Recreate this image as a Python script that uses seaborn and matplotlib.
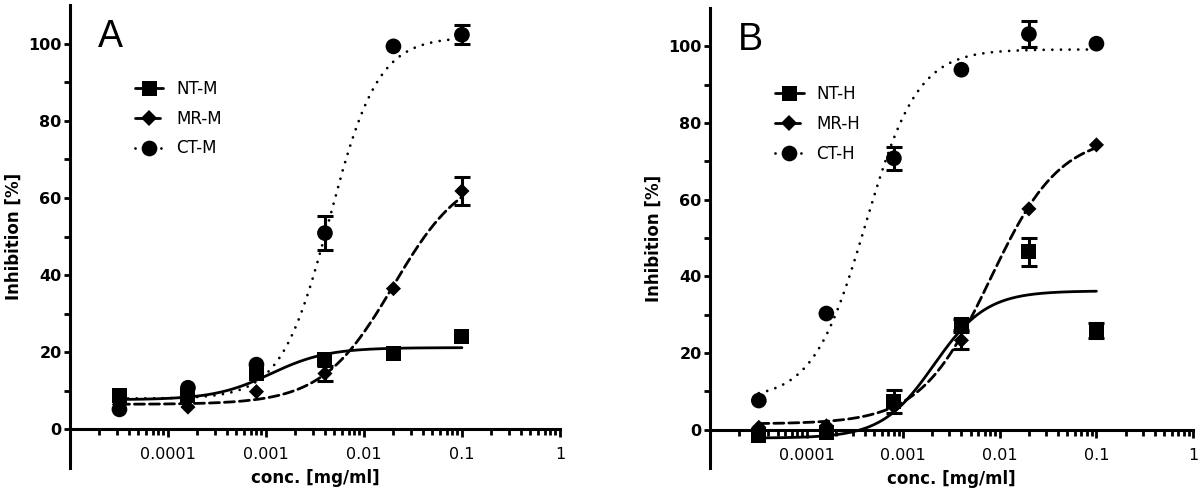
import numpy as np
import matplotlib
matplotlib.use("Agg")
import matplotlib.pyplot as plt
import seaborn as sns
from matplotlib.lines import Line2D
from matplotlib.ticker import LogLocator, NullFormatter

# ---------------- data ----------------
conc = [0.000032, 0.00016, 0.0008, 0.004, 0.02, 0.1]

# Panel A (mouse)
labels_A = ["NT-M", "MR-M", "CT-M"]
nt_m = [8.8, 8.8, 14.6, 18.2, 19.8, 24.0]
nt_m_err = [0, 0, 0, 0, 0, 0]
mr_m = [6.5, 5.8, 9.8, 14.5, 36.5, 61.8]
mr_m_err = [0, 0, 0, 2.0, 0, 3.7]
ct_m = [5.2, 10.8, 16.8, 50.9, 99.3, 102.3]
ct_m_err = [0, 0, 0, 4.5, 0, 2.5]

# Panel B (human)
labels_B = ["NT-H", "MR-H", "CT-H"]
nt_h = [-1.6, -0.7, 7.3, 27.5, 46.4, 25.9]
nt_h_err = [0, 0, 3.0, 1.5, 3.7, 2.0]
mr_h = [0.6, 1.0, 6.0, 23.3, 57.6, 74.3]
mr_h_err = [0, 0, 0, 2.2, 0, 0]
ct_h = [7.6, 30.3, 70.8, 93.9, 103.2, 100.7]
ct_h_err = [0, 0, 3.0, 0, 3.3, 0]

# four-parameter logistic fits: bottom, top, logEC50, hill slope
fit_nt_m = [7.7, 21.2, -2.95, 1.5]
fit_mr_m = [6.5, 68.0, -1.70, 1.2]
fit_ct_m = [8.0, 101.7, -2.35, 1.75]
fit_nt_h = [-2.2, 36.2, -2.68, 1.6]
fit_mr_h = [1.5, 77.0, -2.10, 1.2]
fit_ct_h = [8.0, 99.2, -3.39, 1.6]

xtick_vals = [0.0001, 0.001, 0.01, 0.1, 1]
xtick_labels = ["0.0001", "0.001", "0.01", "0.1", "1"]
ytick_vals = [0, 20, 40, 60, 80, 100]
ytick_labels = ["0", "20", "40", "60", "80", "100"]
panel_letters = ["A", "B"]

# ---------------- style ----------------
sns.set_style("ticks")
plt.rcParams['font.family'] = ['DejaVu Sans']
for k in ['text.color', 'axes.edgecolor', 'axes.labelcolor',
          'xtick.color', 'ytick.color']:
    plt.rcParams[k] = 'black'

LW = 2.0
styles = [
    dict(marker='s', ms=10.8, ls='-'),
    dict(marker='D', ms=7.7, ls=(0, (3.6, 1.8))),
    dict(marker='o', ms=11.3, ls=(0, (0.01, 3.1))),
]


def logistic(x, p):
    b, t, lc, h = p
    return b + (t - b) / (1.0 + 10 ** ((lc - np.log10(x)) * h))


fig = plt.figure(figsize=(12, 4.93), dpi=100)
axA = fig.add_axes([0.0583, 0.0507, 0.4083, 0.939])
axB = fig.add_axes([0.5917, 0.0507, 0.4025, 0.933])

panels = [
    (axA, labels_A, [nt_m, mr_m, ct_m], [nt_m_err, mr_m_err, ct_m_err],
     [fit_nt_m, fit_mr_m, fit_ct_m], (0.133, 0.838)),
    (axB, labels_B, [nt_h, mr_h, ct_h], [nt_h_err, mr_h_err, ct_h_err],
     [fit_nt_h, fit_mr_h, fit_ct_h], (0.135, 0.832)),
]

xfit = np.logspace(np.log10(conc[0]), np.log10(conc[-1]), 300)

for i, (ax, labels, series, errs, fits, legpos) in enumerate(panels):
    handles = []
    for vals, err, fit, st, lab in zip(series, errs, fits, styles, labels):
        sns.lineplot(x=xfit, y=logistic(xfit, fit), ax=ax, color='black',
                     lw=LW, linestyle=st['ls'], dash_capstyle='round',
                     zorder=2, legend=False)
        c = np.array(conc)
        v = np.array(vals)
        e = np.array(err)
        m = e > 0
        if m.any():
            ax.errorbar(c[m], v[m], yerr=e[m], fmt='none', ecolor='black',
                        elinewidth=2.2, capsize=5.5, capthick=2.2, zorder=3)
        sns.scatterplot(x=conc, y=vals, ax=ax, marker=st['marker'],
                        s=st['ms'] ** 2, color='black', edgecolor='none',
                        linewidth=0, zorder=4, legend=False)
        handles.append(Line2D([], [], color='black', lw=LW, linestyle=st['ls'],
                              dash_capstyle='round', marker=st['marker'],
                              markersize=st['ms'], markeredgewidth=0,
                              label=lab))

    ax.set_xscale('log')
    ax.set_xlim(1e-5, 1)
    ax.set_ylim(-10, 110)

    ax.set_xticks(xtick_vals, labels=xtick_labels, fontweight='bold')
    ax.xaxis.set_minor_locator(LogLocator(base=10, subs=np.arange(2, 10), numticks=50))
    ax.xaxis.set_minor_formatter(NullFormatter())
    ax.set_yticks(ytick_vals, labels=ytick_labels, fontweight='bold')
    ax.set_yticks([10, 30, 50, 70, 90], minor=True)

    for s in ['top', 'right']:
        ax.spines[s].set_visible(False)
    ax.spines['bottom'].set_position(('data', 0))
    for s in ['left', 'bottom']:
        ax.spines[s].set_linewidth(2.2)
        ax.spines[s].set_color('black')

    ax.tick_params(axis='x', which='major', length=6, width=2, labelsize=11.5, pad=7, direction='out')
    ax.tick_params(axis='x', which='minor', length=4, width=2, direction='out')
    ax.tick_params(axis='y', which='major', length=4, width=2, labelsize=11.5, pad=2, direction='out')
    ax.tick_params(axis='y', which='minor', length=4, width=2, direction='out')

    ax.set_xlabel("conc. [mg/ml]", fontsize=12, fontweight='bold', labelpad=5)
    ax.set_ylabel("Inhibition [%]", fontsize=12, fontweight='bold', labelpad=4)

    ax.text(0.057, 0.909, panel_letters[i], transform=ax.transAxes,
            fontsize=27, ha='left', va='baseline', family='Liberation Sans')

    ax.legend(handles=handles, loc='upper left', bbox_to_anchor=legpos,
              frameon=False, fontsize=12, handlelength=1.7,
              handletextpad=0.75, labelspacing=0.7, borderpad=0,
              borderaxespad=0)

fig.savefig("out.png", dpi=100)
